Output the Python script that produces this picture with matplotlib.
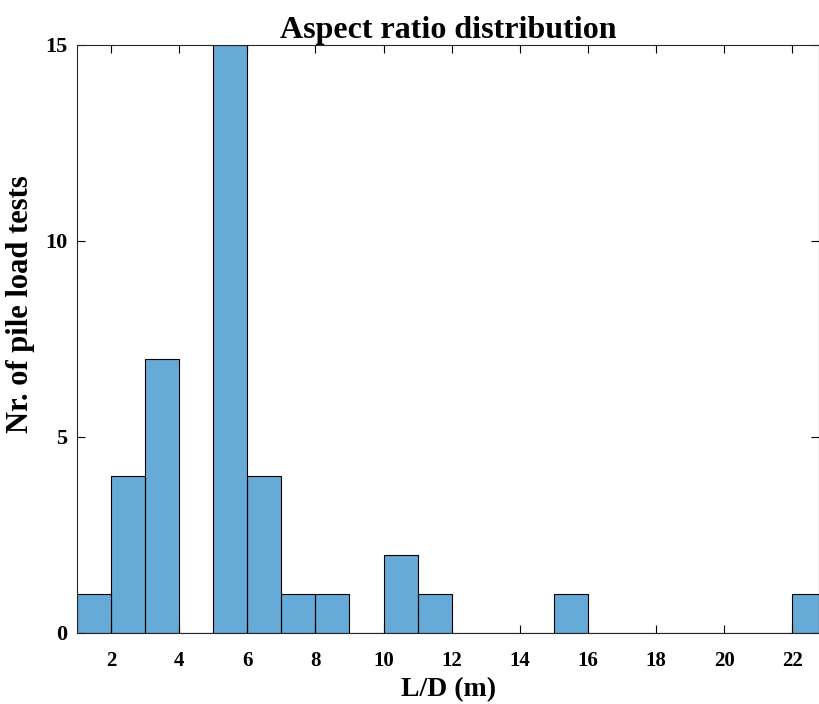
import matplotlib
matplotlib.use("Agg")
import matplotlib.pyplot as plt
import numpy as np

bin_edges = list(range(1, 24))
counts = [1, 4, 7, 0, 15, 4, 1, 1, 0, 2, 1, 0, 0, 0, 1, 0, 0, 0, 0, 0, 0, 1]
x_ticks = [2, 4, 6, 8, 10, 12, 14, 16, 18, 20, 22]
y_ticks = [0, 5, 10, 15]

plt.rcParams['font.family'] = ['Liberation Serif', 'DejaVu Serif']
plt.rcParams['font.weight'] = 'bold'

fig = plt.figure(figsize=(8.2, 7.04), dpi=100)
ax = fig.add_axes([77/820, 1 - 633/704, (819.5-77)/820, (633-45)/704])

ax.bar(bin_edges[:-1], counts, width=1, align='edge',
       color='#0072BD', alpha=0.6, edgecolor='none')
ax.bar(bin_edges[:-1], counts, width=1, align='edge',
       facecolor='none', edgecolor='black', linewidth=0.8)

ax.set_xlim(1, 22.8)
ax.set_ylim(0, 15)
ax.set_xticks(x_ticks)
ax.set_yticks(y_ticks)
ax.tick_params(direction='in', top=True, right=True, length=6, width=0.8,
               labelsize=15)
ax.tick_params(axis='x', pad=13)
ax.tick_params(axis='y', pad=7, labelsize=16)
for lbl in ax.get_xticklabels() + ax.get_yticklabels():
    lbl.set_fontweight('bold')
for s in ax.spines.values():
    s.set_linewidth(0.8)
    s.set_color('#262626')

ax.set_title('Aspect ratio distribution', fontsize=23, fontweight='bold', pad=5)
ax.set_xlabel('L/D (m)', fontsize=20, fontweight='bold', labelpad=4)
ax.set_ylabel('Nr. of pile load tests', fontsize=22, fontweight='bold')
ax.yaxis.set_label_coords(-0.056, 0.56)

fig.savefig('out.png', dpi=100)
